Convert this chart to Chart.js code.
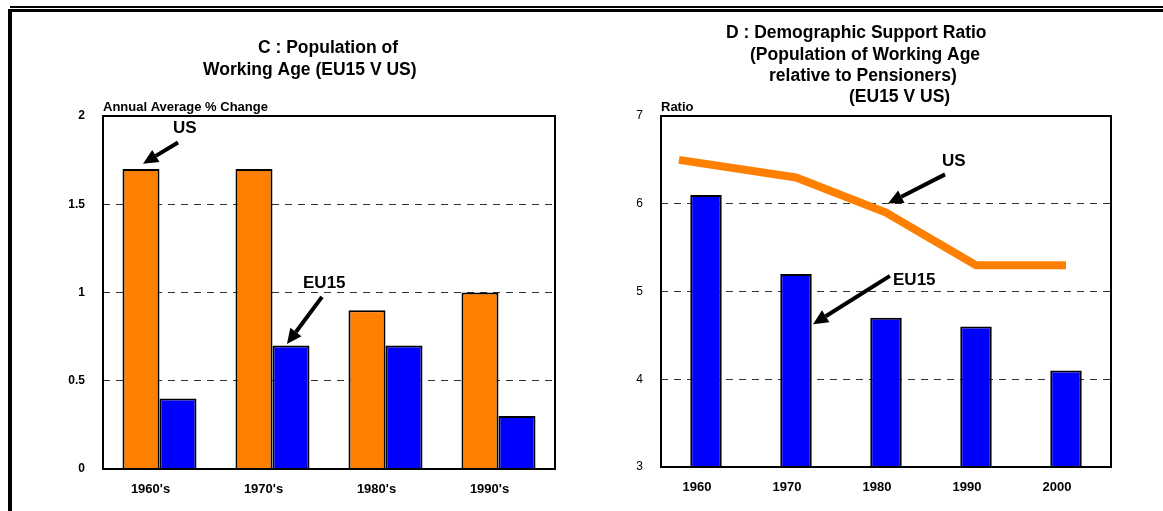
<!DOCTYPE html>
<html>
<head>
<meta charset="utf-8">
<script src="https://cdn.jsdelivr.net/npm/chart.js@4.4.0/dist/chart.umd.min.js"></script>
<style>
  body { margin: 0; background: #fff; width: 1163px; height: 511px; overflow: hidden; position: relative; }
  #left { position: absolute; left: 0; top: 0; }
  #right { position: absolute; left: 580px; top: 0; }
  .rule { position: absolute; background: #000; }
</style>
</head>
<body>
<canvas id="left" width="580" height="511"></canvas>
<canvas id="right" width="583" height="511"></canvas>
<div class="rule" style="left:10px;top:6px;width:1153px;height:2px"></div>
<div class="rule" style="left:8px;top:9px;width:1155px;height:3px"></div>
<div class="rule" style="left:8px;top:9px;width:4px;height:502px"></div>
<script>
// panel C data
const decades = ["1960's", "1970's", "1980's", "1990's"];
const usGrowth = [1.7, 1.7, 0.9, 1.0];
const eu15Growth = [0.4, 0.7, 0.7, 0.3];

// panel D data
const years = ["1960", "1970", "1980", "1990", "2000"];
const eu15Ratio = [6.1, 5.2, 4.7, 4.6, 4.1];
const usYears = [1957, 1970, 1980, 1990, 2000]; // the US line starts a little left of the 1960 bar
const usRatio = [6.5, 6.3, 5.9, 5.3, 5.3];

const ORANGE = "#FF8000";
const BLUE = "#0000FF";
const FONT = "Arial, 'Liberation Sans', sans-serif";
Chart.defaults.font.family = FONT;
Chart.defaults.color = "#000";

// grid only between the first and last tick, dashed
const innerGrid = (ctx) => {
  const s = ctx.scale;
  return (ctx.tick && ctx.tick.value > s.min && ctx.tick.value < s.max) ? "#333" : "rgba(0,0,0,0)";
};

function drawArrow(ctx, x1, y1, x2, y2) {
  const a = Math.atan2(y2 - y1, x2 - x1), L = 15, W = 7;
  const bx = x2 - L * Math.cos(a), by = y2 - L * Math.sin(a);
  ctx.strokeStyle = "#000";
  ctx.fillStyle = "#000";
  ctx.lineWidth = 4;
  ctx.beginPath();
  ctx.moveTo(x1, y1);
  ctx.lineTo(bx, by);
  ctx.stroke();
  ctx.beginPath();
  ctx.moveTo(x2, y2);
  ctx.lineTo(bx + W * Math.sin(a), by - W * Math.cos(a));
  ctx.lineTo(bx - W * Math.sin(a), by + W * Math.cos(a));
  ctx.closePath();
  ctx.fill();
}

// draws plot frame, titles and the arrow labels
function decor(titleLines, axisTitle, notes) {
  return {
    id: "decor",
    afterDatasetsDraw(chart) {
      const ctx = chart.ctx, a = chart.chartArea;
      const xs = chart.scales.x, ys = chart.scales.y;
      ctx.save();
      ctx.strokeStyle = "#000";
      ctx.lineWidth = 2;
      ctx.strokeRect(a.left, a.top, a.right - a.left, a.bottom - a.top);

      ctx.fillStyle = "#000";
      ctx.textBaseline = "middle";
      ctx.textAlign = "left";
      ctx.font = "bold 17.5px " + FONT;
      titleLines.forEach(t => ctx.fillText(t.text, t.x, t.y));

      ctx.font = "bold 13px " + FONT;
      ctx.fillText(axisTitle, a.left, a.top - 9);

      notes.forEach(n => {
        const px = (p) => [xs.getPixelForValue(p[0]), ys.getPixelForValue(p[1])];
        const [tx, ty] = px(n.label);
        ctx.font = "bold 17px " + FONT;
        ctx.fillText(n.text, tx, ty);
        const [x1, y1] = px(n.tail);
        const [x2, y2] = px(n.tip);
        drawArrow(ctx, x1, y1, x2, y2);
      });
      ctx.restore();
    }
  };
}

new Chart(document.getElementById("left"), {
  type: "bar",
  data: {
    labels: decades,
    datasets: [
      { label: "US", data: usGrowth, backgroundColor: ORANGE, borderColor: "#000", borderWidth: 2 },
      { label: "EU15", data: eu15Growth, backgroundColor: BLUE, borderColor: "#000", borderWidth: 2 }
    ]
  },
  options: {
    responsive: false,
    animation: false,
    layout: { padding: { left: 0, right: 25, top: 116, bottom: 0 } },
    plugins: { legend: { display: false }, tooltip: { enabled: false } },
    datasets: { bar: { categoryPercentage: 0.655, barPercentage: 1 } },
    scales: {
      x: {
        grid: { display: false },
        border: { display: false },
        ticks: { font: { size: 13, weight: "bold" }, padding: 5, labelOffset: -9 },
        afterFit: (s) => { s.height = 42; }
      },
      y: {
        min: 0, max: 2,
        ticks: { stepSize: 0.5, font: { size: 12, weight: "bold" }, padding: 18,
                 callback: (v) => String(v) },
        grid: { color: innerGrid, drawTicks: false, lineWidth: 1 },
        border: { display: false, dash: [7, 6] },
        afterFit: (s) => { s.width = 103; }
      }
    }
  },
  plugins: [decor(
    [{ text: "C : Population of", x: 258, y: 48 }, { text: "Working Age (EU15 V US)", x: 203, y: 70 }],
    "Annual Average % Change",
    [
      { text: "US", label: [0.12, 1.93], tail: [0.164, 1.85], tip: [-0.146, 1.73] },
      { text: "EU15", label: [1.27, 1.054], tail: [1.438, 0.975], tip: [1.128, 0.708] }
    ]
  )]
});

new Chart(document.getElementById("right"), {
  type: "bar",
  data: {
    labels: years,
    datasets: [
      { type: "line", label: "US", xAxisID: "x2",
        data: usYears.map((yr, i) => ({ x: yr, y: usRatio[i] })),
        borderColor: ORANGE, borderWidth: 8, pointRadius: 0, tension: 0, fill: false, order: 0 },
      { label: "EU15", data: eu15Ratio, backgroundColor: BLUE, borderColor: "#000", borderWidth: 2,
        grouped: false, order: 1 }
    ]
  },
  options: {
    responsive: false,
    animation: false,
    layout: { padding: { left: 0, right: 52, top: 116, bottom: 0 } },
    plugins: { legend: { display: false }, tooltip: { enabled: false } },
    datasets: { bar: { categoryPercentage: 1, barPercentage: 0.35 } },
    scales: {
      x: {
        grid: { display: false },
        border: { display: false },
        ticks: { font: { size: 13, weight: "bold" }, padding: 5, labelOffset: -9 },
        afterFit: (s) => { s.height = 44; }
      },
      x2: { type: "linear", display: false, offset: false, min: 1955, max: 2005 },
      y: {
        min: 3, max: 7,
        ticks: { stepSize: 1, font: { size: 12 }, padding: 18 },
        grid: { color: innerGrid, drawTicks: false, lineWidth: 1 },
        border: { display: false, dash: [7, 6] },
        afterFit: (s) => { s.width = 81; }
      }
    }
  },
  plugins: [decor(
    [
      { text: "D : Demographic Support Ratio", x: 146, y: 33 },
      { text: "(Population of Working Age", x: 170, y: 55 },
      { text: "relative to Pensioners)", x: 189, y: 76 },
      { text: "(EU15 V US)", x: 269, y: 97 }
    ],
    "Ratio",
    [
      { text: "US", label: [2.622, 6.484], tail: [2.656, 6.335], tip: [2.022, 6.003] },
      { text: "EU15", label: [2.078, 5.132], tail: [2.044, 5.178], tip: [1.189, 4.627] }
    ]
  )]
});
</script>
</body>
</html>
